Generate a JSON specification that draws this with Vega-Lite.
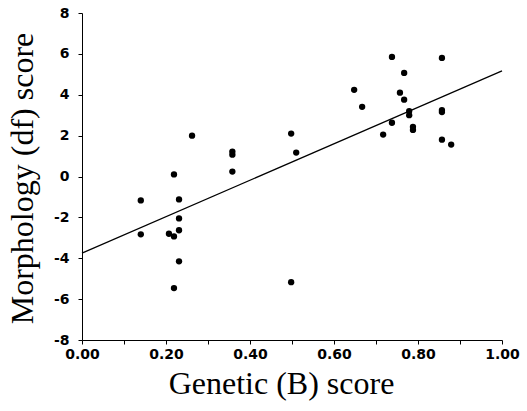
{
  "$schema": "https://vega.github.io/schema/vega-lite/v6.json",
  "width": 420,
  "height": 327,
  "autosize": "none",
  "padding": {"left": 82, "top": 13, "right": 25, "bottom": 71},
  "background": "white",
  "config": {
    "view": {"stroke": null},
    "axis": {
      "domainColor": "black",
      "tickColor": "black",
      "labelColor": "black",
      "titleColor": "black",
      "grid": false,
      "tickSize": 4,
      "labelFlush": false,
      "labelFont": "DejaVu Sans",
      "labelFontWeight": "bold",
      "labelFontSize": 14,
      "titleFont": "Liberation Serif",
      "titleFontWeight": "normal",
      "titleFontSize": 32
    }
  },
  "datasets": {
    "pts": [
      {"genetic": 0.14, "morph": -1.17},
      {"genetic": 0.14, "morph": -2.83},
      {"genetic": 0.219, "morph": 0.1},
      {"genetic": 0.231, "morph": -1.12},
      {"genetic": 0.231, "morph": -2.05},
      {"genetic": 0.231, "morph": -2.63},
      {"genetic": 0.207, "morph": -2.8},
      {"genetic": 0.219, "morph": -2.93},
      {"genetic": 0.231, "morph": -4.15},
      {"genetic": 0.219, "morph": -5.46},
      {"genetic": 0.262, "morph": 2.0},
      {"genetic": 0.358, "morph": 1.22},
      {"genetic": 0.358, "morph": 1.07},
      {"genetic": 0.358, "morph": 0.24},
      {"genetic": 0.498, "morph": -5.17},
      {"genetic": 0.498, "morph": 2.1},
      {"genetic": 0.51, "morph": 1.17},
      {"genetic": 0.648, "morph": 4.24},
      {"genetic": 0.667, "morph": 3.41},
      {"genetic": 0.717, "morph": 2.05},
      {"genetic": 0.738, "morph": 5.85},
      {"genetic": 0.738, "morph": 2.63},
      {"genetic": 0.757, "morph": 4.1},
      {"genetic": 0.767, "morph": 5.07},
      {"genetic": 0.767, "morph": 3.76},
      {"genetic": 0.779, "morph": 3.2},
      {"genetic": 0.779, "morph": 3.0},
      {"genetic": 0.788, "morph": 2.43},
      {"genetic": 0.788, "morph": 2.28},
      {"genetic": 0.857, "morph": 5.8},
      {"genetic": 0.857, "morph": 3.25},
      {"genetic": 0.857, "morph": 3.15},
      {"genetic": 0.857, "morph": 1.8},
      {"genetic": 0.879, "morph": 1.56}
    ],
    "fit": [
      {"genetic": 0.0, "morph": -3.75},
      {"genetic": 1.0, "morph": 5.17}
    ]
  },
  "layer": [
    {
      "data": {"name": "fit"},
      "mark": {"type": "line", "color": "black", "strokeWidth": 1.2},
      "encoding": {
        "x": {"field": "genetic", "type": "quantitative"},
        "y": {"field": "morph", "type": "quantitative"}
      }
    },
    {
      "data": {"name": "pts"},
      "mark": {"type": "point", "shape": "circle", "filled": true, "color": "black", "opacity": 1, "size": 40},
      "encoding": {
        "x": {
          "field": "genetic",
          "type": "quantitative",
          "scale": {"domain": [0, 1], "nice": false, "zero": false},
          "axis": {
            "title": "Genetic (B) score",
            "values": [0, 0.1, 0.2, 0.3, 0.4, 0.5, 0.6, 0.7, 0.8, 0.9, 1.0],
            "labelExpr": "round(datum.value*10) % 2 == 0 ? format(datum.value, '.2f') : ''",
            "labelFlush": false,
            "labelPadding": 3,
            "titleBaseline": "alphabetic",
            "titleY": 53,
            "titleX": 199
          }
        },
        "y": {
          "field": "morph",
          "type": "quantitative",
          "scale": {"domain": [-8, 8], "nice": false, "zero": false},
          "axis": {
            "title": "Morphology (df) score",
            "values": [-8, -7, -6, -5, -4, -3, -2, -1, 0, 1, 2, 3, 4, 5, 6, 7, 8],
            "labelExpr": "datum.value % 2 == 0 ? toString(datum.value) : ''",
            "labelFlush": false,
            "labelPadding": 9,
            "titleBaseline": "alphabetic",
            "titleAngle": -90,
            "titleX": -50,
            "titleY": 165
          }
        }
      }
    }
  ]
}
